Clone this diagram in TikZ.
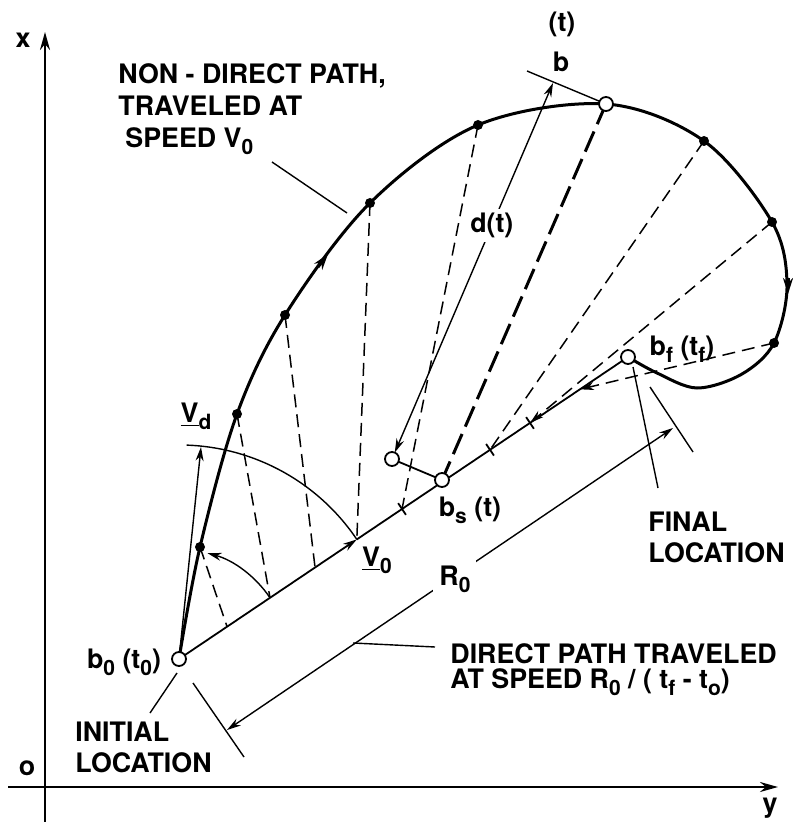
\documentclass[tikz,border=0pt]{standalone}
\usepackage{fontspec}
\setmainfont{TeX Gyre Heros}
\usetikzlibrary{calc,positioning,arrows.meta}
\newcommand{\dn}[1]{\raisebox{-3.5pt}{\fontsize{10.5}{10.5}\selectfont #1}}
\tikzset{
  lbl/.style={font=\fontsize{13.4}{16}\selectfont\bfseries, inner sep=0pt, align=left},
  curve/.style={line width=1.5pt},
  direct/.style={line width=0.9pt},
  leader/.style={line width=0.7pt},
  guide/.style={line width=0.75pt, dash pattern=on 6.5pt off 3.5pt},
  bolddash/.style={line width=1.5pt, dash pattern=on 11pt off 4pt},
  dot/.style={circle, fill, inner sep=0pt, minimum size=5pt},
  opendot/.style={circle, draw, fill=white, line width=0.9pt, inner sep=0pt, minimum size=7pt},
  axis/.style={line width=1.2pt, -{Stealth[length=9pt,width=5pt]}},
  tip/.style={-{Stealth[length=7pt,width=4pt]}},
  tips/.style={{Stealth[length=7pt,width=4pt]}-{Stealth[length=7pt,width=4pt]}}
}
\begin{document}
\begin{tikzpicture}[x=0.5pt, y=-0.5pt]
  \useasboundingbox (0,0) rectangle (792,822);
  % axes
  \coordinate (xbot) at (45,822);  \coordinate (xtop) at (45,32);
  \coordinate (yleft) at (8,787);  \coordinate (yright) at (778,787);
  \draw[axis] (xbot) -- (xtop);
  \draw[axis] (yleft) -- (yright);
  \node[lbl] (xlab) at (23,40) {x};
  \node[lbl] (ylab) at (770,808) {y};
  \node[lbl] (olab) at (27,768) {o};

  % points of the path
  \coordinate (pb0) at (179,659);
  \coordinate (pbf) at (628,357);
  \coordinate (pbt) at (606,104);
  \coordinate (pbs) at (442,480);
  \coordinate (poc) at (392,459);
  \foreach \n/\px/\py in {1/200/547, 2/237/414, 3/285/315, 4/370/203,
                           5/478/125, 6/704/141, 7/772/222, 8/774/343}
    \coordinate (p\n) at (\px,\py);
  \foreach \n/\f in {1/0.107, 2/0.2027, 3/0.303, 4/0.396,
                     5/0.4967, 6/0.6927, 7/0.7817, 8/0.893}
    \coordinate (e\n) at ($(pb0)!\f!(pbf)$);

  % non-direct path
  \draw[curve] plot[smooth, tension=0.55] coordinates {(pb0) (p1) (p2) (p3) (p4) (p5)
    (pbt) (p6) (p7) (787,285) (p8) (742,374) (697,388) (657,373) (pbf)};
  \coordinate (a1s) at (318,267); \coordinate (a1e) at (328,254);
  \coordinate (a2s) at (788,278); \coordinate (a2e) at (788,294);
  \draw[curve, -{Stealth[length=8pt,width=5pt]}] (a1s) -- (a1e);
  \draw[curve, -{Stealth[length=8pt,width=5pt]}] (a2s) -- (a2e);

  % direct path
  \draw[direct, tip] (pb0) -- (e4);
  \draw[direct] (e4) -- (pbf);
  \foreach \n in {5,6,7}
    \draw[direct] ($(e\n)!3.5pt!90:(pbf)$) -- ($(e\n)!3.5pt!-90:(pbf)$);

  % projections onto the direct path
  \foreach \n in {1,...,6} \draw[guide] (p\n) -- (e\n);
  \foreach \n in {7,8} \draw[guide, tip] (p\n) -- (e\n);
  \draw[bolddash] (pbt) -- (pbs);

  % angles and velocities
  \coordinate (pvd) at (201,447);
  \draw[leader, tip] (pb0) -- (pvd);
  \draw[leader] (e4) arc[start angle=34, end angle=88, radius=107.1pt];
  \draw[leader, tip] (e2) arc[start angle=34, end angle=75, radius=54.8pt];
  \node[lbl] (vdlab) at (196,416) {\underline{V}\dn{d}};
  \node[lbl] (v0lab) at (377,560) {\underline{V}\dn{0}};

  % distance d(t)
  \coordinate (ptan) at (527,71);
  \coordinate (pdt) at (553,83);
  \draw[leader] (ptan) -- (pbt);
  \draw[leader, tips, shorten <=3.5pt] (poc) -- node[lbl, pos=0.62, fill=white, inner sep=2pt] (dlab) {d(t)} (pdt);
  \draw[direct] (poc) -- (pbs);

  % R0 dimension
  \coordinate (x1a) at (193,683); \coordinate (x1b) at (244,757);
  \coordinate (x2a) at (650,387); \coordinate (x2b) at (693,452);
  \coordinate (r1) at (227,730);  \coordinate (r2) at (673,428);
  \draw[leader] (x1a) -- (x1b);
  \draw[leader] (x2a) -- (x2b);
  \draw[leader, tips] (r1) -- node[lbl, pos=0.511, fill=white, inner sep=3pt, yshift=-2pt] (r0lab) {R\dn{0}} (r2);

  % markers
  \foreach \n in {1,...,8} \node[dot] (dot\n) at (p\n) {};
  \node[opendot] (b0) at (pb0) {};
  \node[opendot] (bf) at (pbf) {};
  \node[opendot] (bt) at (pbt) {};
  \node[opendot] (bs) at (pbs) {};
  \node[opendot] (oc) at (poc) {};

  % labels
  \node[lbl] (b0lab) at (124,662) {b\dn{0} (t\dn{0})};
  \node[lbl] (bflab) at (682,349) {b\dn{f} (t\dn{f})};
  \node[lbl] (bslab) at (470,510) {b\dn{s} (t)};
  \node[lbl] (btlab) at (561,62) {b};
  \node[lbl] (ttlab) at (562,24) {(t)};

  \node[lbl, anchor=north west, font=\fontsize{13.4}{16}\selectfont\bfseries] (nondirect) at (118,63)
    {NON - DIRECT PATH,\\TRAVELED AT\\\hspace{3.5pt}SPEED V\dn{0}};
  \node[lbl, anchor=north west, font=\fontsize{13.4}{15.5}\selectfont\bfseries] (initial) at (75,722)
    {INITIAL\\LOCATION};
  \node[lbl, anchor=north west, font=\fontsize{13.4}{15.5}\selectfont\bfseries] (final) at (648,512)
    {FINAL\\LOCATION};
  \node[lbl, anchor=north west, font=\fontsize{13.4}{12.5}\selectfont\bfseries] (directtxt) at (450,643)
    {DIRECT PATH TRAVELED\\AT SPEED R\dn{0} / ( t\dn{f} - t\dn{o})};

  % leaders
  \coordinate (l1a) at (272,162); \coordinate (l1b) at (347,213);
  \coordinate (l2a) at (177,673); \coordinate (l2b) at (150,713);
  \coordinate (l3a) at (633,367); \coordinate (l3b) at (658,488);
  \coordinate (l4a) at (353,643); \coordinate (l4b) at (435,647);
  \foreach \n in {1,...,4} \draw[leader] (l\n a) -- (l\n b);
\end{tikzpicture}
\end{document}
